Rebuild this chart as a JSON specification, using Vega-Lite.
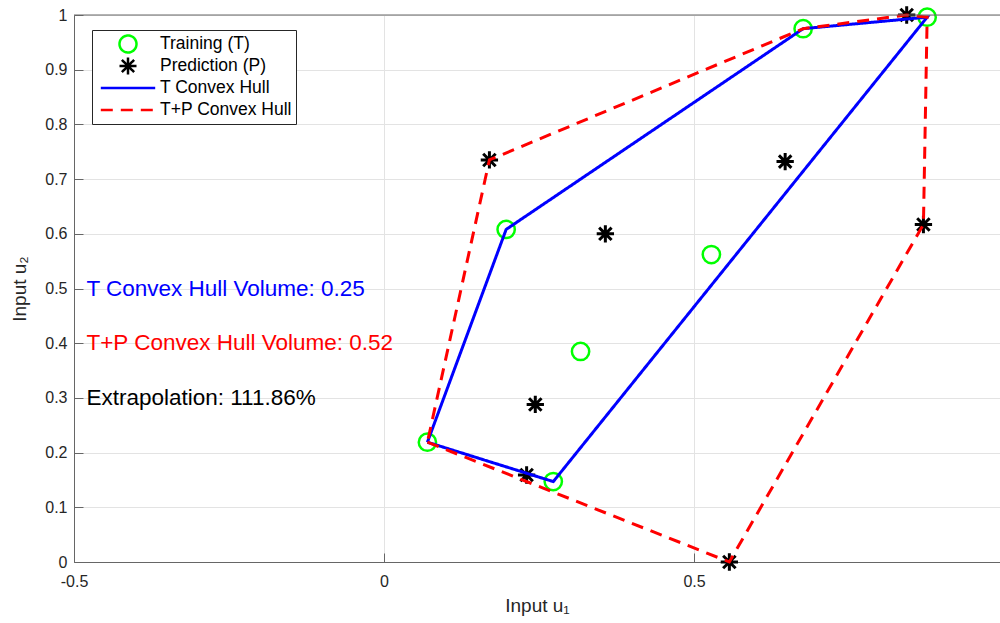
{
  "$schema": "https://vega.github.io/schema/vega-lite/v6.json",
  "width": 926,
  "height": 547,
  "autosize": {"type": "none"},
  "padding": {"left": 74, "top": 15, "right": 0, "bottom": 61},
  "background": "white",
  "config": {
    "view": {"stroke": null},
    "font": "Liberation Sans",
    "axis": {
      "labelFont": "Liberation Sans",
      "titleFont": "Liberation Sans",
      "labelColor": "#262626",
      "titleColor": "#262626",
      "labelFontSize": 16,
      "titleFontSize": 19,
      "titleFontWeight": "normal",
      "domainColor": "#666666",
      "tickColor": "#666666",
      "gridColor": "#e3e3e3",
      "gridWidth": 1,
      "tickSize": -9
    },
    "legend": {
      "labelFont": "Liberation Sans",
      "labelFontSize": 17.5,
      "labelColor": "#000000",
      "symbolSize": 289,
      "symbolStrokeWidth": 2.5,
      "symbolOpacity": 1,
      "padding": 4,
      "rowPadding": 2,
      "clipHeight": 20,
      "strokeColor": "#262626",
      "fillColor": "white"
    }
  },
  "datasets": {
    "train": [
      {"x": 0.070, "y": 0.219, "s": "Training (T)"},
      {"x": 0.197, "y": 0.608, "s": "Training (T)"},
      {"x": 0.273, "y": 0.147, "s": "Training (T)"},
      {"x": 0.317, "y": 0.385, "s": "Training (T)"},
      {"x": 0.528, "y": 0.562, "s": "Training (T)"},
      {"x": 0.676, "y": 0.975, "s": "Training (T)"},
      {"x": 0.876, "y": 0.996, "s": "Training (T)"}
    ],
    "pred": [
      {"x": 0.170, "y": 0.735, "s": "Prediction (P)"},
      {"x": 0.357, "y": 0.600, "s": "Prediction (P)"},
      {"x": 0.647, "y": 0.732, "s": "Prediction (P)"},
      {"x": 0.244, "y": 0.288, "s": "Prediction (P)"},
      {"x": 0.230, "y": 0.159, "s": "Prediction (P)"},
      {"x": 0.557, "y": 0.000, "s": "Prediction (P)"},
      {"x": 0.870, "y": 0.617, "s": "Prediction (P)"},
      {"x": 0.843, "y": 1.000, "s": "Prediction (P)"}
    ],
    "hullT": [
      {"o": 1, "x": 0.070, "y": 0.219, "s": "T Convex Hull"},
      {"o": 2, "x": 0.273, "y": 0.147, "s": "T Convex Hull"},
      {"o": 3, "x": 0.876, "y": 0.996, "s": "T Convex Hull"},
      {"o": 4, "x": 0.676, "y": 0.975, "s": "T Convex Hull"},
      {"o": 5, "x": 0.197, "y": 0.608, "s": "T Convex Hull"},
      {"o": 6, "x": 0.070, "y": 0.219, "s": "T Convex Hull"}
    ],
    "hullTP": [
      {"o": 1, "x": 0.070, "y": 0.219, "s": "T+P Convex Hull"},
      {"o": 2, "x": 0.557, "y": 0.000, "s": "T+P Convex Hull"},
      {"o": 3, "x": 0.870, "y": 0.617, "s": "T+P Convex Hull"},
      {"o": 4, "x": 0.876, "y": 0.996, "s": "T+P Convex Hull"},
      {"o": 5, "x": 0.843, "y": 1.000, "s": "T+P Convex Hull"},
      {"o": 6, "x": 0.676, "y": 0.975, "s": "T+P Convex Hull"},
      {"o": 7, "x": 0.170, "y": 0.735, "s": "T+P Convex Hull"},
      {"o": 8, "x": 0.070, "y": 0.219, "s": "T+P Convex Hull"}
    ]
  },
  "encoding": {
    "x": {
      "field": "x", "type": "quantitative",
      "scale": {"domain": [-0.5, 0.9935], "nice": false, "zero": false},
      "axis": {"values": [-0.5, 0, 0.5], "title": "Input u₁", "titleFontSize": 19, "grid": true, "labelFlush": false, "labelPadding": 20, "titlePadding": 7, "labelExpr": "datum.value < 0 ? '-' + format(-datum.value, '~g') : format(datum.value, '~g')"}
    },
    "y": {
      "field": "y", "type": "quantitative",
      "scale": {"domain": [0, 1], "nice": false, "zero": false},
      "axis": {"values": [0, 0.1, 0.2, 0.3, 0.4, 0.5, 0.6, 0.7, 0.8, 0.9, 1], "title": "Input u₂", "titleFontSize": 19, "grid": true, "labelPadding": 16, "titlePadding": 15, "labelExpr": "format(datum.value, '~g')"}
    }
  },
  "layer": [
    {
      "data": {"name": "train"},
      "mark": {"type": "point", "filled": false, "size": 300, "strokeWidth": 2.5, "opacity": 1},
      "encoding": {
        "color": {
          "field": "s", "type": "nominal",
          "scale": {"domain": ["Training (T)", "Prediction (P)", "T Convex Hull", "T+P Convex Hull"], "range": ["#00ff00", "#000000", "#0000ff", "#ff0000"]},
          "legend": {"title": null, "orient": "none", "legendX": 18, "legendY": 15, "symbolOffset": 22, "labelOffset": 22}
        },
        "shape": {
          "field": "s", "type": "nominal",
          "scale": {"domain": ["Training (T)", "Prediction (P)", "T Convex Hull", "T+P Convex Hull"], "range": ["circle", "M0,-1V1M-1,0H1M-0.72,-0.72L0.72,0.72M-0.72,0.72L0.72,-0.72", "M-3.2,0H3.2", "M-3.2,0H3.2"]},
          "legend": {"title": null, "orient": "none", "legendX": 18, "legendY": 15, "symbolOffset": 22, "labelOffset": 22}
        }
      }
    },
    {
      "data": {"name": "pred"},
      "mark": {"type": "point", "filled": false, "size": 300, "strokeWidth": 3, "opacity": 1},
      "encoding": {
        "color": {"field": "s", "type": "nominal", "legend": null},
        "shape": {"field": "s", "type": "nominal", "legend": null}
      }
    },
    {
      "data": {"name": "hullT"},
      "mark": {"type": "line", "strokeWidth": 3, "opacity": 1},
      "encoding": {
        "order": {"field": "o", "type": "quantitative"},
        "color": {"field": "s", "type": "nominal", "legend": null},
        "strokeDash": {
          "field": "s", "type": "nominal",
          "scale": {"domain": ["Training (T)", "Prediction (P)", "T Convex Hull", "T+P Convex Hull"], "range": [[1, 0], [1, 0], [1, 0], [12, 8]]},
          "legend": {"title": null, "orient": "none", "legendX": 18, "legendY": 15, "symbolOffset": 22, "labelOffset": 22}
        }
      }
    },
    {
      "data": {"name": "hullTP"},
      "mark": {"type": "line", "strokeWidth": 3, "opacity": 1},
      "encoding": {
        "order": {"field": "o", "type": "quantitative"},
        "color": {"field": "s", "type": "nominal", "legend": null},
        "strokeDash": {"field": "s", "type": "nominal", "legend": null}
      }
    },
    {
      "data": {"values": [{"x": -0.48, "y": 0.5, "t": "T Convex Hull Volume: 0.25"}]},
      "mark": {"type": "text", "align": "left", "baseline": "middle", "fontSize": 22.5, "font": "Liberation Sans", "color": "#0000ff"},
      "encoding": {"text": {"field": "t"}}
    },
    {
      "data": {"values": [{"x": -0.48, "y": 0.4, "t": "T+P Convex Hull Volume: 0.52"}]},
      "mark": {"type": "text", "align": "left", "baseline": "middle", "fontSize": 22.5, "font": "Liberation Sans", "color": "#ff0000"},
      "encoding": {"text": {"field": "t"}}
    },
    {
      "data": {"values": [{"x": -0.48, "y": 0.3, "t": "Extrapolation: 111.86%"}]},
      "mark": {"type": "text", "align": "left", "baseline": "middle", "fontSize": 22.5, "font": "Liberation Sans", "color": "#000000"},
      "encoding": {"text": {"field": "t"}}
    },
    {
      "data": {"values": [{"x": -0.5, "y": 1}]},
      "mark": {"type": "rule", "color": "#666666", "strokeWidth": 1},
      "encoding": {"x2": {"datum": 0.9935}}
    }
  ]
}
